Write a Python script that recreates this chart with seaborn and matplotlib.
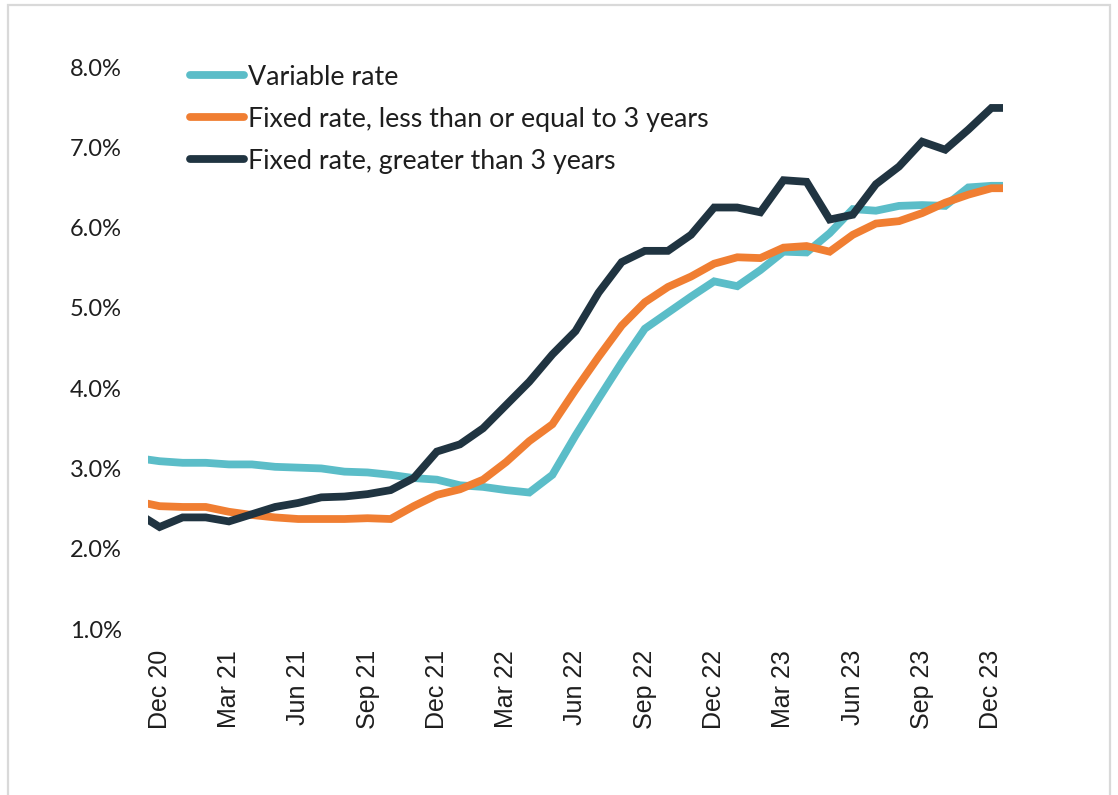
import numpy as np
import pandas as pd
import matplotlib
matplotlib.use("Agg")
import matplotlib.pyplot as plt
from matplotlib.patches import Rectangle
import seaborn as sns

# Monthly mortgage rates, Nov 2020 - Jan 2024 (%)
months = [p.strftime("%b %y") for p in pd.period_range("2020-11", "2024-01", freq="M")]

variable_rate = [3.13, 3.09, 3.07, 3.07, 3.05, 3.05, 3.02, 3.01, 3.00, 2.96,
                 2.95, 2.92, 2.88, 2.86, 2.79, 2.77, 2.73, 2.70, 2.92, 3.41,
                 3.87, 4.32, 4.74, 4.94, 5.14, 5.33, 5.27, 5.47, 5.70, 5.69,
                 5.93, 6.23, 6.21, 6.27, 6.28, 6.27, 6.50, 6.52, 6.52]
fixed_short = [2.59, 2.53, 2.52, 2.52, 2.46, 2.42, 2.39, 2.37, 2.37, 2.37,
               2.38, 2.37, 2.53, 2.67, 2.74, 2.86, 3.08, 3.34, 3.55, 3.98,
               4.39, 4.78, 5.07, 5.26, 5.39, 5.55, 5.63, 5.62, 5.75, 5.77,
               5.70, 5.91, 6.05, 6.08, 6.18, 6.31, 6.41, 6.49, 6.49]
fixed_long = [2.45, 2.27, 2.39, 2.39, 2.34, 2.43, 2.52, 2.57, 2.64, 2.65,
              2.68, 2.73, 2.88, 3.21, 3.30, 3.50, 3.79, 4.08, 4.42, 4.71,
              5.19, 5.57, 5.71, 5.71, 5.91, 6.25, 6.25, 6.19, 6.59, 6.57,
              6.10, 6.16, 6.54, 6.76, 7.07, 6.97, 7.22, 7.49, 7.49]

series_names = ["Variable rate",
                "Fixed rate, less than or equal to 3 years",
                "Fixed rate, greater than 3 years"]
colors = ["#5BBDC8", "#F07E32", "#203441"]

y_ticks = [1.0, 2.0, 3.0, 4.0, 5.0, 6.0, 7.0, 8.0]
x_tick_labels = ["Dec 20", "Mar 21", "Jun 21", "Sep 21", "Dec 21", "Mar 22", "Jun 22",
                 "Sep 22", "Dec 22", "Mar 23", "Jun 23", "Sep 23", "Dec 23"]

frames = []
for name, vals in zip(series_names, [variable_rate, fixed_short, fixed_long]):
    frames.append(pd.DataFrame({"pos": np.arange(len(months)), "month": months,
                                "rate": vals, "series": name}))
df = pd.concat(frames, ignore_index=True)

sns.set_theme(style="white")
plt.rcParams["font.family"] = ["Lato", "DejaVu Sans"]
text_color = "#1e1e1e"

fig = plt.figure(figsize=(11.18, 7.95), dpi=100)
ax = fig.add_axes([148 / 1118, 1 - 629 / 795, 855 / 1118, 562 / 795])

sns.lineplot(data=df, x="pos", y="rate", hue="series", hue_order=series_names,
             palette=colors, linewidth=5.6, ax=ax, legend=True)
for line in ax.get_lines():
    line.set_solid_capstyle("butt")
    line.set_solid_joinstyle("miter")

ax.set_xlim(0.5, len(months) - 1.5)
ax.set_ylim(1.0, 8.0)
ax.set_yticks(y_ticks)
ax.set_yticklabels([f"{v:.1f}%" for v in y_ticks], fontsize=17, color=text_color)
tick_pos = [months.index(lbl) for lbl in x_tick_labels]
ax.set_xticks(tick_pos)
ax.set_xticklabels(x_tick_labels, rotation=90, fontsize=18, color=text_color,
                   family=["Liberation Sans", "DejaVu Sans"])
ax.tick_params(axis="y", length=0, pad=19)
ax.tick_params(axis="x", length=0, pad=15)
ax.set_xlabel("")
ax.set_ylabel("")
for s in ax.spines.values():
    s.set_visible(False)

handles, labels = ax.get_legend_handles_labels()
leg = ax.legend(handles, labels, loc="upper left", bbox_to_anchor=(0.049, 1.004),
                frameon=False, fontsize=19.3, handlelength=2.0, handletextpad=0.15,
                labelspacing=0.63, borderaxespad=0, borderpad=0)
for h in leg.legend_handles:
    h.set_linewidth(5.6)
    h.set_solid_capstyle("round")
for t in leg.get_texts():
    t.set_color(text_color)

# light frame around the chart panel
fig.add_artist(Rectangle((8 / 1118, -0.02), (1110 - 8) / 1118, 1 - 5 / 795 + 0.02,
                         transform=fig.transFigure, fill=False,
                         edgecolor="#d9d9d9", linewidth=1.6))

fig.savefig("out.png", dpi=100, facecolor="white")
